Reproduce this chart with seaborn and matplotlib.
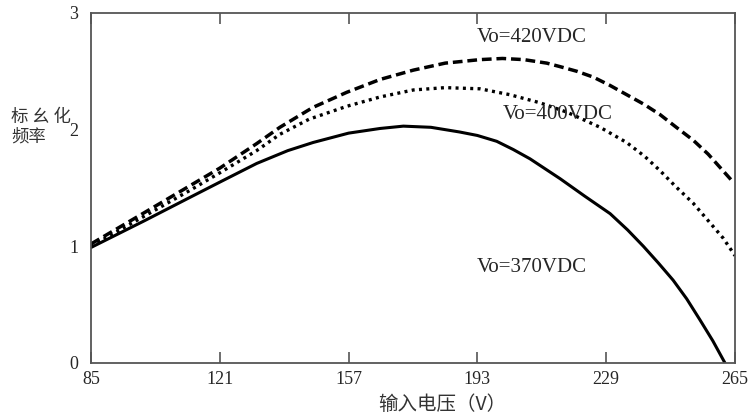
import pandas as pd
import seaborn as sns
import matplotlib.pyplot as plt

sns.set_theme(style="white")
plt.rcParams['font.family'] = ['Liberation Serif', 'Noto Sans CJK SC']

# --- curves ---
x370 = [85, 100, 112.7, 121, 131.3, 140, 147.1, 157, 165.8, 172.3, 180, 188, 193,
        198.4, 203, 207.7, 216.1, 223, 230.1, 235, 239.4, 243.5, 247.7, 251.5, 255.2,
        258.8, 262.2]
y370 = [0.99, 1.22, 1.42, 1.55, 1.71, 1.82, 1.89, 1.97, 2.01, 2.03, 2.02, 1.98, 1.95,
        1.90, 1.83, 1.75, 1.58, 1.43, 1.28, 1.14, 1.00, 0.86, 0.71, 0.55, 0.37,
        0.19, 0.0]

x400 = [85, 100, 112.7, 121, 131.3, 137.8, 146, 156.5, 165.8, 175.1, 184, 193.7, 202,
        210.5, 218, 227.3, 234.7, 239.8, 244, 248.5, 253.3, 257.5, 261.7, 265]
y400 = [1.00, 1.26, 1.48, 1.63, 1.82, 1.96, 2.09, 2.20, 2.28, 2.34, 2.36, 2.35, 2.30,
        2.23, 2.15, 2.02, 1.89, 1.77, 1.65, 1.51, 1.37, 1.22, 1.07, 0.92]

x420 = [85, 100, 112.7, 121, 131.3, 137.8, 147, 156.5, 165.8, 175.1, 184, 193.7, 200,
        206, 212.4, 216.1, 220.8, 225.4, 230, 234.7, 239.4, 244, 248.6, 253.3, 257.5,
        261, 264.5]
y420 = [1.02, 1.29, 1.52, 1.67, 1.88, 2.02, 2.19, 2.32, 2.43, 2.51, 2.57, 2.60, 2.61,
        2.60, 2.57, 2.54, 2.50, 2.45, 2.38, 2.30, 2.22, 2.13, 2.02, 1.91, 1.79,
        1.67, 1.55]

xticks = [85, 121, 157, 193, 229, 265]
yticks = [0, 1, 2, 3]
labels = ['Vo=370VDC', 'Vo=400VDC', 'Vo=420VDC']

fig, ax = plt.subplots(figsize=(7.55, 4.18), dpi=100)
fig.subplots_adjust(left=0.1205, right=0.9735, bottom=0.1316, top=0.969)

sns.lineplot(x=x370, y=y370, color='black', lw=2.2, ax=ax)
sns.lineplot(x=x400, y=y400, color='black', lw=2.4, ax=ax, linestyle=(0, (0.9, 1.3)))
sns.lineplot(x=x420, y=y420, color='black', lw=2.5, ax=ax, linestyle=(0, (2.8, 1.4)))

ax.set_xlim(85, 265)
ax.set_ylim(0, 3)
ax.set_xticks(xticks)
ax.set_yticks(yticks)
ax.tick_params(axis='x', direction='in', top=True, bottom=True, length=8,
               width=1.2, color='#555555', labelsize=13, pad=6)
ax.tick_params(axis='y', length=0, labelsize=13, pad=9)
for sp in ax.spines.values():
    sp.set_color('#555555')
    sp.set_linewidth(1.3)

ax.text(208.3, 2.79, labels[2], ha='center', va='center', fontsize=15)
ax.text(215.4, 2.13, labels[1], ha='center', va='center', fontsize=15)
ax.text(208.1, 0.82, labels[0], ha='center', va='center', fontsize=15)

ax.set_xlabel('输入电压（V）', fontsize=14,
              family=['Noto Sans CJK SC', 'DejaVu Sans'], color='#333333')
ax.xaxis.set_label_coords(0.545, -0.09)
ax.set_ylabel('')
fig.text(11 / 755, 1 - 127 / 418, '标 幺 化\n频率', ha='left', va='center',
         fontsize=12.5, family=['Noto Sans CJK SC', 'DejaVu Sans'],
         color='#333333', linespacing=1.1)

plt.savefig('out.png', dpi=100)
